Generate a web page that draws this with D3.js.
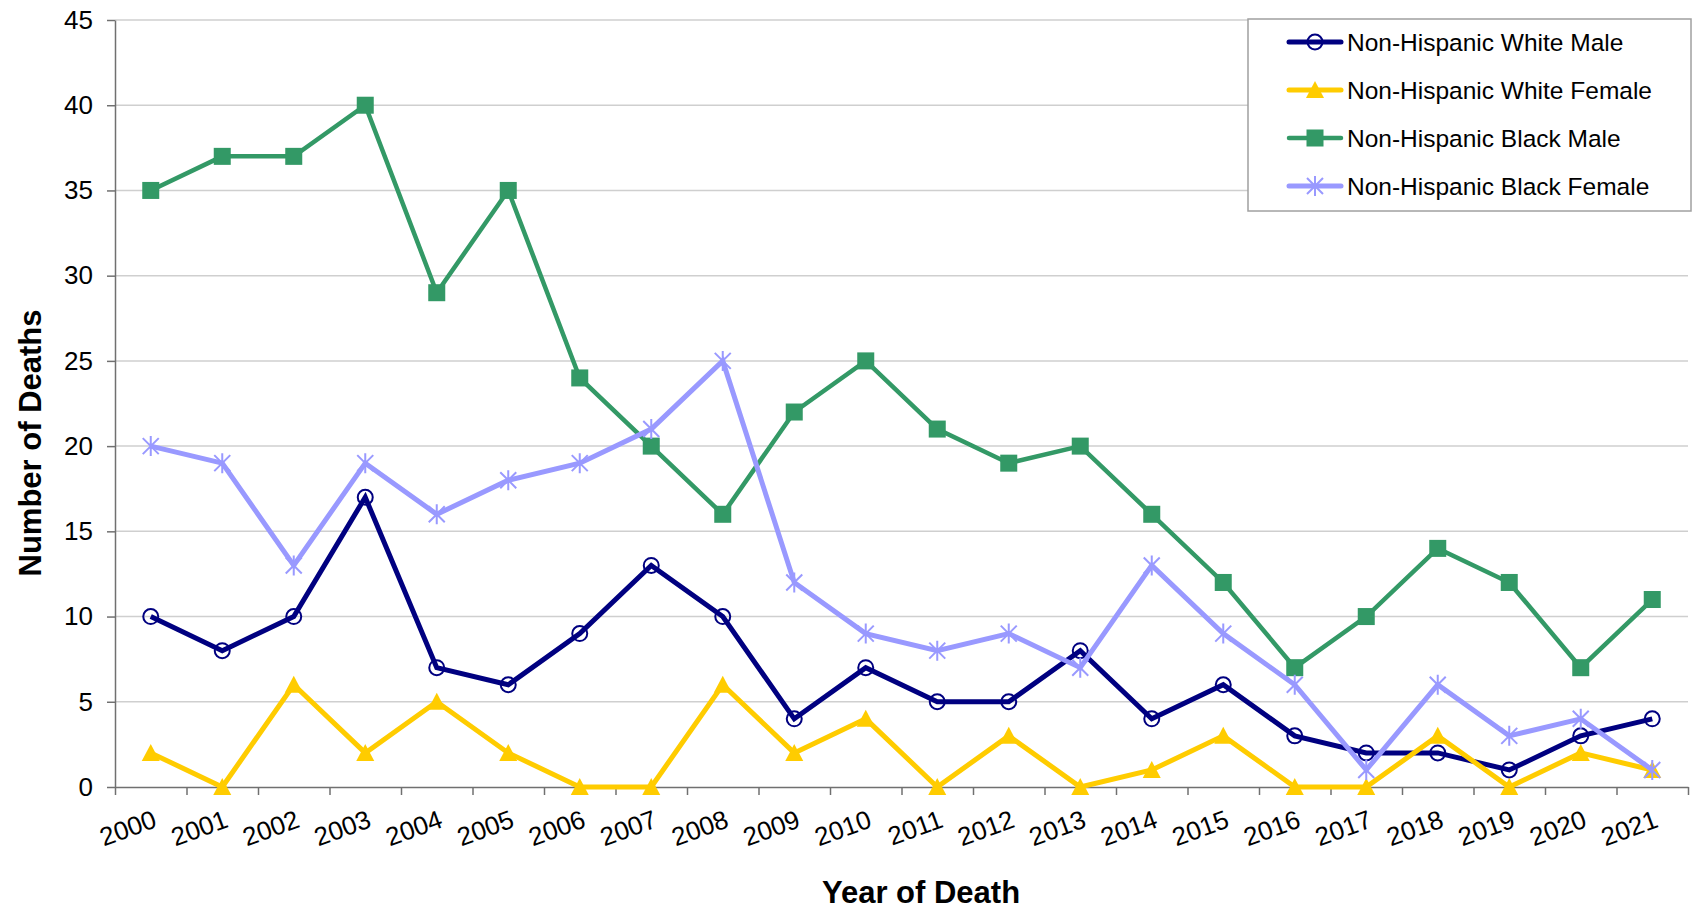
<!DOCTYPE html>
<html>
<head>
<meta charset="utf-8">
<script src="https://cdn.jsdelivr.net/npm/d3@7"></script>
<style>
  html, body { margin: 0; padding: 0; background: #ffffff; }
  svg { display: block; font-family: "Liberation Sans", Arial, sans-serif; }
</style>
</head>
<body>
<svg id="chart" width="1697" height="909"></svg>
<script>
const years = ["2000","2001","2002","2003","2004","2005","2006","2007","2008","2009","2010",
               "2011","2012","2013","2014","2015","2016","2017","2018","2019","2020","2021"];
const whiteMale   = [10, 8, 10, 17, 7, 6, 9, 13, 10, 4, 7, 5, 5, 8, 4, 6, 3, 2, 2, 1, 3, 4];
const whiteFemale = [2, 0, 6, 2, 5, 2, 0, 0, 6, 2, 4, 0, 3, 0, 1, 3, 0, 0, 3, 0, 2, 1];
const blackMale   = [35, 37, 37, 40, 29, 35, 24, 20, 16, 22, 25, 21, 19, 20, 16, 12, 7, 10, 14, 12, 7, 11];
const blackFemale = [20, 19, 13, 19, 16, 18, 19, 21, 25, 12, 9, 8, 9, 7, 13, 9, 6, 1, 6, 3, 4, 1];
const seriesNames = ["Non-Hispanic White Male", "Non-Hispanic White Female",
                     "Non-Hispanic Black Male", "Non-Hispanic Black Female"];
const yTicks = [0, 5, 10, 15, 20, 25, 30, 35, 40, 45];
const xTitle = "Year of Death";
const yTitle = "Number of Deaths";

const series = [
  { name: seriesNames[0], values: whiteMale,   color: "#000080", marker: "circle",   width: 5 },
  { name: seriesNames[1], values: whiteFemale, color: "#FFCC00", marker: "triangle", width: 5 },
  { name: seriesNames[2], values: blackMale,   color: "#339966", marker: "square",   width: 4.5 },
  { name: seriesNames[3], values: blackFemale, color: "#9999FF", marker: "star",     width: 5 }
];

const svg = d3.select("#chart");
const plot = { left: 115, right: 1688, top: 20, bottom: 787 };

const x = d3.scaleBand().domain(years).range([plot.left, plot.right]).padding(0);
const xTick = d3.scaleLinear().domain([0, years.length]).range([plot.left, plot.right]);
const y = d3.scaleLinear().domain([0, 45]).range([plot.bottom, plot.top]);
const cx = d => x(d) + x.bandwidth() / 2;

// gridlines
svg.append("g").selectAll("line").data(yTicks.filter(t => t > 0)).join("line")
  .attr("x1", plot.left).attr("x2", plot.right)
  .attr("y1", d => y(d)).attr("y2", d => y(d))
  .attr("stroke", "#cfcfcf").attr("stroke-width", 1.5);

// y axis
const yAxis = svg.append("g").attr("transform", `translate(${plot.left},0)`)
  .call(d3.axisLeft(y).tickValues(yTicks).tickSize(8).tickSizeOuter(0).tickPadding(14));
yAxis.select(".domain").attr("stroke", "#707070").attr("stroke-width", 1.5);
yAxis.selectAll(".tick line").attr("stroke", "#707070").attr("stroke-width", 1.5);
yAxis.selectAll(".tick text").attr("font-size", 26).attr("fill", "#000")
  .attr("font-family", "'Liberation Sans', Arial, sans-serif");

// x axis (ticks between categories)
const xAxis = svg.append("g").attr("transform", `translate(0,${plot.bottom})`)
  .call(d3.axisBottom(xTick).tickValues(d3.range(years.length + 1)).tickFormat("").tickSize(8).tickSizeOuter(0));
xAxis.select(".domain").attr("stroke", "#707070").attr("stroke-width", 1.5);
xAxis.selectAll(".tick line").attr("stroke", "#707070").attr("stroke-width", 1.5);

// x labels
svg.append("g").selectAll("text").data(years).join("text")
  .attr("transform", d => `translate(${cx(d) + 1},809) rotate(-20)`)
  .attr("text-anchor", "end").attr("dy", "0.72em")
  .attr("font-size", 26).attr("fill", "#000")
  .text(d => d);

// axis titles
svg.append("text").attr("x", 921).attr("y", 903).attr("text-anchor", "middle")
  .attr("font-size", 31).attr("font-weight", "bold").text(xTitle);
svg.append("text").attr("transform", "translate(41,443) rotate(-90)").attr("text-anchor", "middle")
  .attr("font-size", 31).attr("font-weight", "bold").text(yTitle);

function drawMarker(g, type, color) {
  if (type === "circle") {
    g.append("circle").attr("r", 7.5).attr("fill", "none").attr("stroke", color).attr("stroke-width", 2);
  } else if (type === "triangle") {
    g.append("path").attr("d", "M0,-9 L9,8 L-9,8 Z").attr("fill", color);
  } else if (type === "square") {
    g.append("rect").attr("x", -8.5).attr("y", -8.5).attr("width", 17).attr("height", 17).attr("fill", color);
  } else if (type === "star") {
    g.append("path").attr("d", "M-8,-8 L8,8 M-8,8 L8,-8 M0,-10 L0,10")
      .attr("stroke", color).attr("stroke-width", 2).attr("fill", "none");
  }
}

const line = d3.line().x((d, i) => cx(years[i])).y(d => y(d));

// draw series
series.forEach(s => {
  const g = svg.append("g");
  g.append("path").datum(s.values).attr("d", line)
    .attr("fill", "none").attr("stroke", s.color).attr("stroke-width", s.width)
    .attr("stroke-linejoin", "miter");
  g.selectAll("g.m").data(s.values).join("g").attr("class", "m")
    .attr("transform", (d, i) => `translate(${cx(years[i])},${y(d)})`)
    .each(function() { drawMarker(d3.select(this), s.marker, s.color); });
});

// legend
const leg = svg.append("g");
leg.append("rect").attr("x", 1248).attr("y", 19).attr("width", 443).attr("height", 192)
  .attr("fill", "#fff").attr("stroke", "#a0a0a0").attr("stroke-width", 1.5);
series.forEach((s, i) => {
  const yy = 42 + i * 48;
  const row = leg.append("g");
  row.append("line").attr("x1", 1289).attr("x2", 1341).attr("y1", yy).attr("y2", yy)
    .attr("stroke", s.color).attr("stroke-width", s.width).attr("stroke-linecap", "round");
  drawMarker(row.append("g").attr("transform", `translate(1315,${yy})`), s.marker, s.color);
  row.append("text").attr("x", 1347).attr("y", yy).attr("dy", "0.35em")
    .attr("font-size", 24.5).attr("fill", "#000").text(s.name);
});
</script>
</body>
</html>
